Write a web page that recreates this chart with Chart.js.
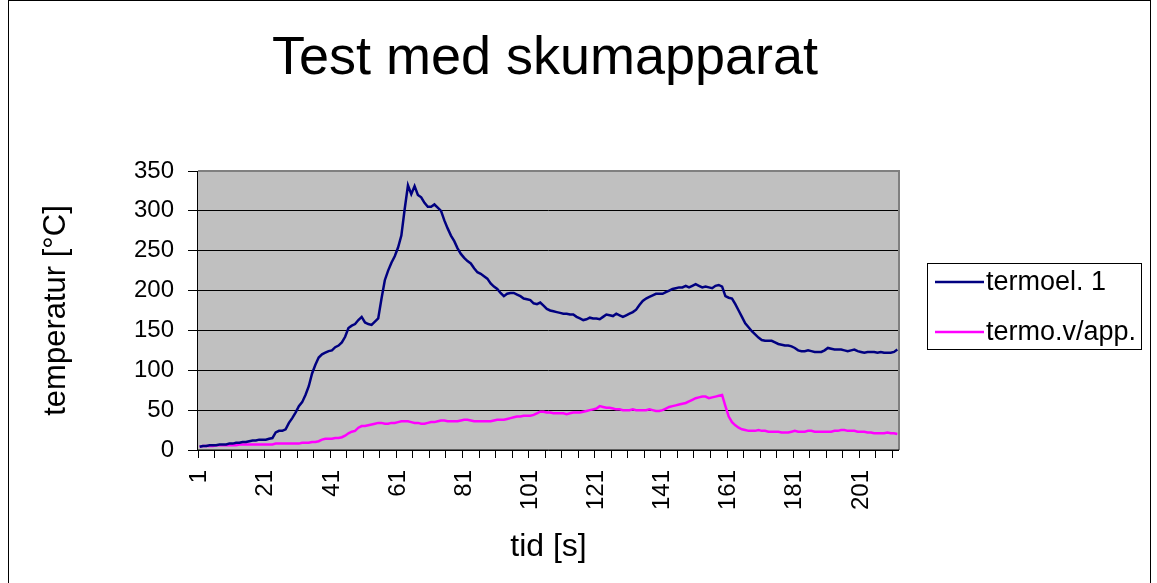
<!DOCTYPE html>
<html>
<head>
<meta charset="utf-8">
<title>Test med skumapparat</title>
<script src="https://cdn.jsdelivr.net/npm/chart.js@4.4.1/dist/chart.umd.min.js"></script>
<style>
  html, body { margin: 0; padding: 0; background: #fff; }
  #wrap { width: 1157px; height: 583px; }
</style>
</head>
<body>
<div id="wrap"><canvas id="chart" width="1157" height="583"></canvas></div>
<script>
const titleText = 'Test med skumapparat';
const xTitle = 'tid [s]';
const yTitle = 'temperatur [°C]';
const seriesNames = ['termoel. 1', 'termo.v/app.'];
const seriesColors = ['#000080', '#FF00FF'];
const yTicks = [0, 50, 100, 150, 200, 250, 300, 350];
const labelEvery = 20;   // x labels 1, 21, 41, ...
const tickEvery = 5;     // small tick marks

// termoel. 1, one value per second
const termoel1 = [
    4, 5, 5, 6, 6, 6, 7, 7, 7, 8,
    8, 9, 9, 10, 10, 11, 12, 12, 13, 13,
    13, 14, 15, 22, 24, 24, 26, 34, 40, 47,
    55, 60, 69, 80, 96, 107, 116, 120, 122, 124,
    125, 129, 131, 135, 142, 153, 156, 158, 163, 167,
    160, 158, 157, 161, 165, 190, 213, 225, 235, 243,
    254, 269, 302, 332, 321, 331, 320, 317, 310, 305,
    305, 308, 304, 300, 288, 278, 269, 262, 253, 246,
    241, 237, 234, 228, 223, 221, 218, 215, 209, 205,
    202, 197, 193, 196, 197, 197, 195, 193, 190, 189,
    188, 184, 183, 185, 181, 177, 175, 174, 173, 172,
    171, 171, 170, 170, 167, 165, 163, 164, 166, 165,
    165, 164, 167, 170, 169, 168, 171, 169, 167, 169,
    171, 173, 176, 182, 187, 190, 192, 194, 196, 196,
    196, 198, 200, 202, 203, 204, 204, 206, 204, 206,
    208, 206, 204, 205, 204, 203, 206, 207, 205, 193,
    191, 190, 183, 175, 167, 159, 154, 149, 145, 141,
    138, 137, 137, 137, 135, 133, 132, 131, 131, 130,
    128, 125, 124, 124, 125, 124, 123, 123, 123, 125,
    128, 127, 126, 126, 126, 125, 124, 125, 126, 124,
    123, 122, 123, 123, 123, 122, 123, 122, 122, 122,
    123, 126
];

// termo.v/app.
const termoApp = [
    4, 5, 5, 5, 5, 6, 6, 6, 6, 6,
    6, 6, 7, 7, 7, 7, 7, 7, 7, 7,
    7, 7, 7, 8, 8, 8, 8, 8, 8, 8,
    8, 9, 9, 9, 10, 10, 11, 13, 14, 14,
    14, 15, 15, 16, 18, 21, 23, 24, 28, 30,
    30, 31, 32, 33, 34, 34, 33, 33, 34, 34,
    35, 36, 36, 36, 35, 34, 34, 33, 33, 34,
    35, 35, 36, 37, 37, 36, 36, 36, 36, 37,
    38, 38, 37, 36, 36, 36, 36, 36, 36, 37,
    38, 38, 38, 39, 40, 41, 42, 42, 43, 43,
    43, 44, 46, 48, 48, 47, 47, 46, 46, 46,
    46, 45, 46, 47, 47, 47, 48, 49, 50, 51,
    52, 55, 54, 53, 53, 52, 51, 51, 50, 50,
    50, 51, 50, 50, 50, 50, 51, 50, 49, 49,
    50, 52, 54, 55, 56, 57, 58, 59, 61, 63,
    65, 66, 67, 67, 65, 66, 67, 68, 69, 55,
    42, 35, 31, 28, 26, 25, 24, 24, 24, 25,
    24, 24, 23, 23, 23, 23, 22, 22, 22, 23,
    24, 23, 23, 23, 24, 24, 23, 23, 23, 23,
    23, 23, 24, 24, 25, 25, 24, 24, 24, 23,
    23, 23, 22, 22, 21, 21, 21, 21, 22, 21,
    21, 20
];

const timeLabels = termoel1.map((_, i) => String(i + 1));

const FONT = '"Liberation Sans", Arial, Helvetica, sans-serif';
Chart.defaults.font.family = FONT;
Chart.defaults.color = '#000';

// grey plot background + frame
const plotBackground = {
    id: 'plotBackground',
    beforeDraw(chart) {
        const { ctx, chartArea: a } = chart;
        ctx.save();
        ctx.fillStyle = '#C0C0C0';
        ctx.fillRect(a.left, a.top, a.right - a.left, a.bottom - a.top);
        ctx.restore();
    },
    afterDatasetsDraw(chart) {
        const { ctx, chartArea: a } = chart;
        ctx.save();
        ctx.strokeStyle = '#808080';
        ctx.lineWidth = 2;
        ctx.beginPath();
        ctx.moveTo(a.left, a.top);
        ctx.lineTo(a.right, a.top);
        ctx.lineTo(a.right, a.bottom);
        ctx.stroke();
        ctx.strokeStyle = '#000';
        ctx.lineWidth = 1;
        ctx.beginPath();
        ctx.moveTo(a.left - 0.5, a.top);
        ctx.lineTo(a.left - 0.5, a.bottom);
        ctx.lineTo(a.right, a.bottom);
        ctx.stroke();
        ctx.restore();
    }
};

// title over the whole picture, legend with a box, outer frame
const decorations = {
    id: 'decorations',
    afterDraw(chart) {
        const ctx = chart.ctx;
        ctx.save();
        ctx.strokeStyle = '#000';
        ctx.lineWidth = 1;
        ctx.strokeRect(8.5, 0.5, 1142, 600);

        ctx.fillStyle = '#000';
        ctx.font = '54px ' + FONT;
        ctx.textAlign = 'center';
        ctx.textBaseline = 'middle';
        ctx.fillText(titleText, 545, 59);

        const x = 927, y = 263, w = 214, h = 86;
        ctx.strokeRect(x + 0.5, y + 0.5, w, h);
        ctx.font = '27px ' + FONT;
        ctx.textAlign = 'left';
        chart.data.datasets.forEach((ds, i) => {
            const ly = y + 19 + i * 50;
            ctx.strokeStyle = ds.borderColor;
            ctx.lineWidth = 2.5;
            ctx.beginPath();
            ctx.moveTo(x + 8, ly);
            ctx.lineTo(x + 57, ly);
            ctx.stroke();
            ctx.fillStyle = '#000';
            ctx.fillText(ds.label, x + 59, ly + 1);
        });
        ctx.restore();
    }
};

new Chart(document.getElementById('chart').getContext('2d'), {
    type: 'line',
    data: {
        labels: timeLabels,
        datasets: [termoel1, termoApp].map((values, i) => ({
            label: seriesNames[i],
            data: values,
            borderColor: seriesColors[i],
            backgroundColor: seriesColors[i],
            borderWidth: 2.5,
            pointRadius: 0,
            tension: 0,
            fill: false
        }))
    },
    options: {
        responsive: false,
        animation: false,
        devicePixelRatio: 1,
        layout: { padding: { left: 10, top: 171, right: 258, bottom: 0 } },
        plugins: {
            legend: { display: false },
            tooltip: { enabled: false },
            title: { display: false }
        },
        scales: {
            x: {
                type: 'category',
                offset: true,
                border: { display: false },
                grid: {
                    offset: true,
                    drawOnChartArea: false,
                    drawTicks: true,
                    tickLength: 8,
                    color: ctx => (ctx.index !== undefined && ctx.index % tickEvery === 0) ? '#000' : 'rgba(0,0,0,0)'
                },
                ticks: {
                    autoSkip: false,
                    minRotation: 90,
                    maxRotation: 90,
                    padding: 12,
                    font: { size: 24 },
                    callback: function (val, index) {
                        return index % labelEvery === 0 ? this.getLabelForValue(val) : '';
                    }
                },
                title: {
                    display: true,
                    text: xTitle,
                    font: { size: 32 },
                    padding: { top: 4, bottom: 17 }
                },
                afterFit: scale => { scale.height = 133; }
            },
            y: {
                min: yTicks[0],
                max: yTicks[yTicks.length - 1],
                border: { display: false },
                grid: {
                    color: '#000',
                    lineWidth: 1,
                    drawTicks: true,
                    tickLength: 10
                },
                ticks: {
                    stepSize: yTicks[1] - yTicks[0],
                    padding: 14,
                    font: { size: 24 }
                },
                title: {
                    display: true,
                    text: yTitle,
                    font: { size: 31 },
                    padding: { top: 28, bottom: 0 }
                },
                afterFit: scale => { scale.width = 188; }
            }
        }
    },
    plugins: [plotBackground, decorations]
});
</script>
</body>
</html>
